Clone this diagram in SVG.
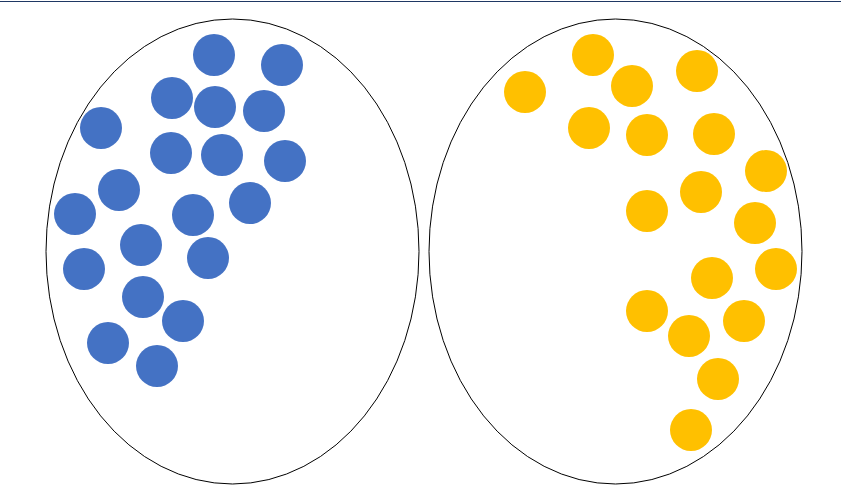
<svg xmlns="http://www.w3.org/2000/svg" width="841" height="499" viewBox="0 0 841 499">
<style>
.set{fill:none;stroke:#000;stroke-width:1}
.b{fill:#4472C4}
.y{fill:#FFC000}
</style>
<rect width="841" height="499" fill="#fff"/>
<line x1="0" y1="1.5" x2="841" y2="1.5" stroke="#1F3864" stroke-width="1.2"/>
<g id="set-left">
<ellipse class="set" cx="232.5" cy="251.5" rx="186.5" ry="232.5"/>
<g class="b">
<circle cx="214" cy="55" r="21"/><circle cx="282" cy="65" r="21"/><circle cx="172" cy="98" r="21"/>
<circle cx="215" cy="107" r="21"/><circle cx="264" cy="111" r="21"/><circle cx="101" cy="128" r="21"/>
<circle cx="171" cy="153" r="21"/><circle cx="222" cy="155" r="21"/><circle cx="285" cy="161" r="21"/>
<circle cx="119" cy="190" r="21"/><circle cx="250" cy="203" r="21"/><circle cx="75" cy="214" r="21"/>
<circle cx="193" cy="215" r="21"/><circle cx="141" cy="245" r="21"/><circle cx="208" cy="258" r="21"/>
<circle cx="84" cy="269" r="21"/><circle cx="143" cy="297" r="21"/><circle cx="183" cy="321" r="21"/>
<circle cx="108" cy="343" r="21"/><circle cx="157" cy="366" r="21"/>
</g>
</g>
<g id="set-right">
<ellipse class="set" cx="615.5" cy="251.5" rx="186.5" ry="232.5"/>
<g class="y">
<circle cx="593" cy="55" r="21"/><circle cx="525" cy="92" r="21"/><circle cx="632" cy="86" r="21"/>
<circle cx="697" cy="71" r="21"/><circle cx="589" cy="128" r="21"/><circle cx="647" cy="135" r="21"/>
<circle cx="714" cy="134" r="21"/><circle cx="766" cy="171" r="21"/><circle cx="701" cy="192" r="21"/>
<circle cx="647" cy="211" r="21"/><circle cx="755" cy="223" r="21"/><circle cx="776" cy="269" r="21"/>
<circle cx="712" cy="278" r="21"/><circle cx="647" cy="311" r="21"/><circle cx="744" cy="321" r="21"/>
<circle cx="689" cy="336" r="21"/><circle cx="718" cy="379" r="21"/><circle cx="691" cy="430" r="21"/>
</g>
</g>
<g id="connectors"/>
</svg>
